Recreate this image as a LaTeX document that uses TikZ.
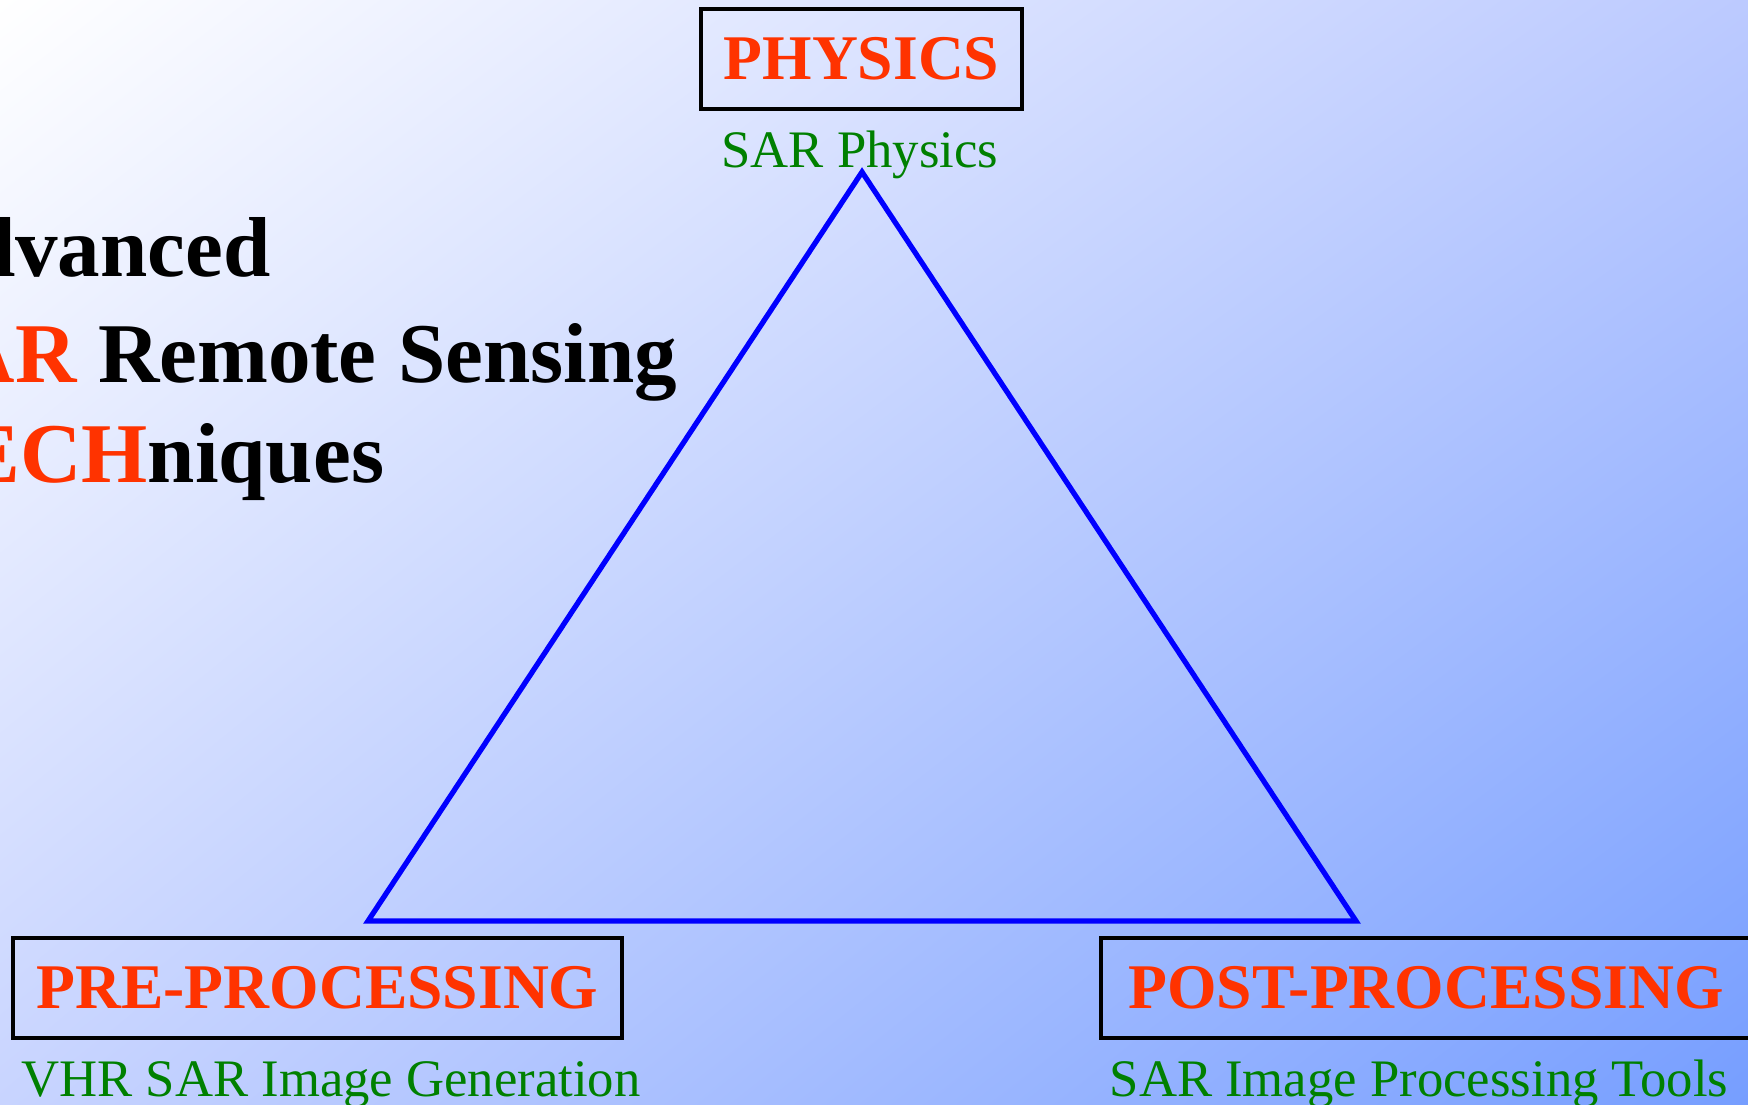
\documentclass[tikz,border=0pt]{standalone}
\usepackage{fontspec}
\setmainfont{Liberation Serif}
\usetikzlibrary{shadings}
\definecolor{sarred}{RGB}{255,51,0}
\definecolor{sargreen}{RGB}{0,128,0}
\definecolor{bgmid}{RGB}{188,202,255}
\definecolor{bglow}{RGB}{200,212,255}
\definecolor{bgdeep}{RGB}{118,158,255}
\tikzset{
  topic/.style={draw=black,line width=1.2pt,text=sarred,inner xsep=2.3mm,minimum height=10mm,
    font=\bfseries\fontsize{18.1}{20}\selectfont},
  caption/.style={text=sargreen,anchor=base,inner sep=0pt,font=\fontsize{15}{17}\selectfont},
  titleline/.style={anchor=base west,inner sep=0pt,font=\bfseries\fontsize{24.2}{29}\selectfont}
}
\begin{document}
\begin{tikzpicture}[x=0.1mm,y=-0.1mm]
\useasboundingbox (0,0) rectangle (1748,1104);
\clip (0,0) rectangle (1748,1104);
\shade[upper left=white,upper right=bgmid,lower left=bglow,lower right=bgdeep] (0,0) rectangle (1748,1104);
% title, partly cut at the left edge
\node[titleline] (adv) at (-94,276) {\textcolor{sarred}{A}dvanced};
\node[titleline] (sar) at (-94,382) {\textcolor{sarred}{SAR} Remote Sensing};
\node[titleline] (tech) at (-94,482) {\textcolor{sarred}{TECH}niques};
% the three corners
\node[topic,minimum width=32.1mm] (phys) at (861.5,59) {PHYSICS};
\node[caption] (physcap) at (860,167) {SAR Physics};
\node[topic,minimum width=60.9mm] (pre) at (317.5,988) {PRE-PROCESSING};
\node[caption] (precap) at (331,1096) {VHR SAR Image Generation};
\node[topic,minimum width=65mm] (post) at (1426,988) {POST-PROCESSING};
\node[caption] (postcap) at (1419,1096) {SAR Image Processing Tools};
\coordinate (apex) at (862,172);
\coordinate (lcorner) at (368,921);
\coordinate (rcorner) at (1356,921);
\draw[blue,line width=1.5pt] (apex) -- (rcorner) -- (lcorner) -- cycle;
\end{tikzpicture}
\end{document}
